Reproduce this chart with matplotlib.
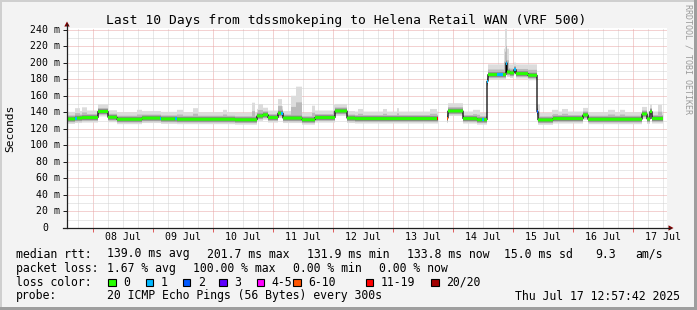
import matplotlib
matplotlib.use("Agg")
import matplotlib.pyplot as plt
import matplotlib.transforms as mtrans
import numpy as np
from matplotlib.lines import Line2D
from matplotlib.patches import Polygon, Rectangle

W, H, DPI = 697, 310, 100
MONO = "DejaVu Sans Mono"

# ---- data: hours since graph start (07 Jul ~13:25), median rtt in ms ----
seg_start_h = [0.0, 3.2, 4.0, 6.0, 12.4, 16.4, 20.0, 30.0, 37.2, 37.6,
               43.2, 44.0, 67.2, 76.0, 78.4, 80.4, 84.4, 85.6, 86.4, 94.0,
               99.2, 107.2, 112.0, 115.2, 148.0, 148.4, 152.0, 152.4, 158.4, 164.0,
               166.0, 166.8, 168.0, 168.4, 172.0, 174.4, 175.6, 176.0, 177.2, 178.8,
               179.6, 184.4, 188.0, 188.4, 194.4, 206.4, 208.4, 230.0, 232.0, 233.2,
               234.0, 238.4]
median_ms = [132.0, 133.0, 133.0, 133.6, 141.0, 134.0, 131.6, 133.0, 133.0, 132.0,
             132.0, 131.6, 131.0, 135.6, 137.0, 133.6, 139.0, 139.0, 133.0, 131.0,
             133.6, 141.6, 133.0, 132.4, 132.4, None, 133.0, 141.6, 132.4, 131.0,
             131.0, 131.0, 177.6, 185.6, 185.6, 185.6, 199.6, 188.8, 187.6, 191.6,
             186.8, 184.8, 140.8, 130.8, 132.4, 136.8, 131.6, 138.0, 132.0, 140.8,
             132.4, None]
loss_n = [0, 1, 0, 0, 0, 0, 0, 0, 1, 0,
          1, 0, 0, 0, 0, 0, 0, 1, 0, 0,
          0, 0, 0, 0, 15, 20, 8, 0, 0, 0,
          1, 0, 1, 0, 1, 0, 1, 0, 0, 1,
          0, 0, 2, 0, 0, 0, 0, 0, 0, 0,
          0, 0]

# smoke peaks (slowest pings) above the normal spread
bump_start_h = [3.2, 6.0, 13.2, 28.0, 44.0, 50.4, 62.4, 74.0, 76.4, 84.4,
                89.6, 91.6, 98.0, 106.4, 116.4, 126.4, 132.0, 145.2, 152.4, 162.4,
                168.4, 174.8, 175.2, 176.0, 176.8, 188.0, 194.0, 198.0, 206.4, 216.4,
                221.2, 230.4, 236.4]
bump_end_h = [5.2, 8.0, 16.4, 30.0, 46.4, 52.4, 64.0, 75.2, 78.4, 86.0,
              91.6, 94.0, 99.2, 108.0, 118.4, 128.0, 132.8, 148.0, 158.4, 165.2,
              174.8, 175.2, 176.0, 176.8, 188.0, 189.2, 196.4, 200.4, 208.4, 219.2,
              223.2, 232.0, 238.0]
bump_top_ms = [145, 146, 148, 143, 143, 145, 143, 151.6, 150, 156,
               160, 171, 148, 149, 144, 144, 145, 144, 151, 143,
               198, 217, 241, 217, 198, 150, 143, 144, 145, 143,
               143, 146, 149]

loss_labels = ["0", "1", "2", "3", "4-5", "6-10", "11-19", "20/20"]
loss_colors = ["#26ff00", "#00b8ff", "#0059ff", "#5e00ff", "#ff00ff",
               "#ff5500", "#ff0000", "#a10000"]
loss_upper = [0, 1, 2, 3, 5, 10, 19, 20]

first_midnight_h = 10.55
day_labels = ["08 Jul", "09 Jul", "10 Jul", "11 Jul", "12 Jul",
              "13 Jul", "14 Jul", "15 Jul", "16 Jul", "17 Jul"]
ytick_vals = list(range(0, 241, 20))
ytick_labels = ["0"] + [f"{v} m" for v in ytick_vals[1:]]

title = "Last 10 Days from tdssmokeping to Helena Retail WAN (VRF 500)"
row_median = [("median rtt:", 16), ("139.0 ms avg", 107.3), ("201.7 ms max", 207.3),
              ("131.9 ms min", 306.7), ("133.8 ms now", 407.3), ("15.0 ms sd", 504),
              ("9.3", 595), ("am/s", 635)]
row_loss = [("packet loss:", 16), ("1.67 % avg", 107.3), ("100.00 % max", 193.3),
            ("0.00 % min", 293.3), ("0.00 % now", 379.3)]
row_probe = [("probe:", 16), ("20 ICMP Echo Pings (56 Bytes) every 300s", 107.3)]
stamp = "Thu Jul 17 12:57:42 2025"


def fx(px):
    return px / W


def fy(py):
    return 1 - py / H


fig = plt.figure(figsize=(W / DPI, H / DPI), dpi=DPI, facecolor="#f3f3f3")

# 3D-ish frame like rrdtool
fig.add_artist(Rectangle((0, fy(2)), 1, 2 / H, transform=fig.transFigure, color="#cfcfcf", lw=0))
fig.add_artist(Rectangle((0, 0), 2 / W, 1, transform=fig.transFigure, color="#cfcfcf", lw=0))
fig.add_artist(Rectangle((0, 0), 1, 3 / H, transform=fig.transFigure, color="#9e9e9e", lw=0))
fig.add_artist(Rectangle((fx(694), 0), 3 / W, 1, transform=fig.transFigure, color="#9e9e9e", lw=0))

ax = fig.add_axes([fx(67), fy(228), 600 / W, 200 / H])
ax.set_facecolor("white")
ax.set_xlim(0, 240)
ax.set_ylim(0, 242)
for s in ax.spines.values():
    s.set_visible(False)

# grid (dotted, 1px on / 1px off)
dots = (0, (1, 1))
for h in np.arange(first_midnight_h % 6, 240, 6):
    major = abs((h - first_midnight_h) % 24) < 1e-6
    ax.axvline(h, color="#e8a4a4" if major else "#d2d2d2", lw=0.72, ls=dots, zorder=1)
for v in range(10, 241, 10):
    ax.axhline(v, color="#e8a4a4" if v % 20 == 0 else "#d2d2d2", lw=0.72, ls=dots, zorder=1)

# per-column series (one column = 0.4 h = 1 px)
edges = np.linspace(0, 240, 601)
t = edges[:-1]
idx = np.searchsorted(seg_start_h, t + 1e-6, side="right") - 1
med = np.array(median_ms, dtype=float)[idx]
loss = np.array(loss_n)[idx]
top = med + 8.5
for s, e, v in zip(bump_start_h, bump_end_h, bump_top_ms):
    m = (t >= s - 1e-6) & (t < e - 1e-6)
    top[m] = np.maximum(top[m], v)

ax.stairs(top, edges, baseline=med - 6, fill=True, color="#dcdcdc", lw=0, zorder=2)
ax.stairs(med + 0.5 * (top - med), edges, baseline=med - 4, fill=True,
          color="#bababa", lw=0, zorder=2.1)
ax.stairs(med + 2.9, edges, baseline=med - 3.0, fill=True, color="#8a8a8a", lw=0, zorder=2.2)
ax.stairs(med, edges, baseline=None, color="#000000", lw=0.9, zorder=3)

bucket = np.searchsorted(loss_upper, loss)
for b, c in enumerate(loss_colors):
    vals = np.where(bucket == b, med, np.nan)
    ax.stairs(vals + 1.8, edges, baseline=vals - 1.8, fill=True, color=c, lw=0, zorder=4)

# ticks
ax.set_yticks(ytick_vals)
ax.set_yticklabels([])
ax.tick_params(axis="y", length=3, width=0.72, color="#202020")
midnights = first_midnight_h + 24 * np.arange(len(day_labels))
ax.set_xticks(midnights)
ax.set_xticklabels([])
ax.tick_params(axis="x", length=3, width=0.72, color="#e06060")

for v, lab in zip(ytick_vals, ytick_labels):
    xr = 60 if v else 48
    ax.text((xr - 67) / 600, v, lab, transform=ax.get_yaxis_transform(), ha="right",
            va="center", fontsize=7.1, family=MONO, clip_on=False)
xlab_tr = mtrans.blended_transform_factory(ax.transData, fig.transFigure)
for h, lab in zip(midnights + 12, day_labels):
    ax.text(h, fy(240.5), lab, transform=xlab_tr, ha="center", va="baseline",
            fontsize=7.1, family=MONO)

# axes lines and arrows
fig.add_artist(Line2D([fx(67), fx(67)], [fy(228), fy(24)], transform=fig.transFigure,
                      color="#202020", lw=0.9))
fig.add_artist(Line2D([fx(63), fx(670)], [fy(228), fy(228)], transform=fig.transFigure,
                      color="#202020", lw=0.9))
fig.add_artist(Polygon([(fx(64.3), fy(26.5)), (fx(69.7), fy(26.5)), (fx(67), fy(21.5))],
                       transform=fig.transFigure, color="#800000", lw=0))
fig.add_artist(Polygon([(fx(668.5), fy(225.3)), (fx(668.5), fy(230.7)), (fx(673.5), fy(228))],
                       transform=fig.transFigure, color="#800000", lw=0))

# texts
fig.text(fx(346.5), fy(24), title, ha="center", va="baseline", fontsize=9.4, family=MONO)
fig.text(fx(10.5), fy(128), "Seconds", rotation=90, ha="center", va="center",
         fontsize=8.1, family=MONO)
fig.text(fx(688), fy(4), "RRDTOOL / TOBI OETIKER", rotation=270, ha="center", va="top",
         fontsize=6.0, family=MONO, color="#9a9a9a")

for row, py in ((row_median, 257.5), (row_loss, 271.7), (row_probe, 299.5)):
    for s, px in row:
        fig.text(fx(px), fy(py), s, ha="left", va="baseline", fontsize=8.3, family=MONO)
fig.text(fx(680), fy(299.5), stamp, ha="right", va="baseline", fontsize=8.3, family=MONO)

fig.text(fx(16), fy(285.7), "loss color:", ha="left", va="baseline", fontsize=8.3, family=MONO)
box_x = [108.3, 145.7, 182.7, 219.3, 256.7, 293.3, 365.7, 431]
for bx, c, lab in zip(box_x, loss_colors, loss_labels):
    fig.add_artist(Rectangle((fx(bx), fy(286.2)), 7.7 / W, 7.7 / H, transform=fig.transFigure,
                             facecolor=c, edgecolor="black", lw=0.8))
    fig.text(fx(bx + 15), fy(285.7), lab, ha="left", va="baseline", fontsize=8.3, family=MONO)

fig.savefig("out.png", dpi=DPI, facecolor=fig.get_facecolor())
